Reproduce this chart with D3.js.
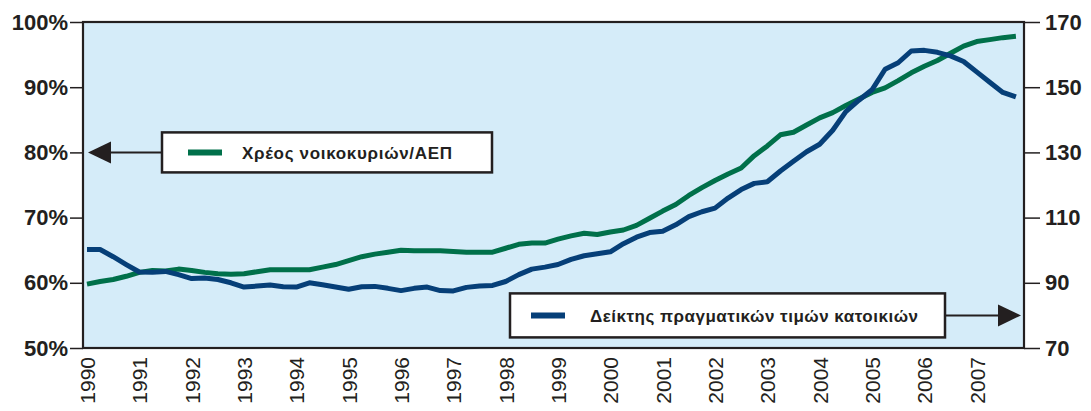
<!DOCTYPE html>
<html>
<head>
<meta charset="utf-8">
<script src="https://cdn.jsdelivr.net/npm/d3@7"></script>
<style>
  body { margin: 0; background: #fff; }
  text { font-family: "Liberation Sans", Arial, Helvetica, sans-serif; fill: #231f20; }
</style>
</head>
<body>
<div id="chart"></div>
<script>
// Quarterly data, 1990Q1 - 2007Q4
var firstYear = 1990;
var yearLabels = ["1990", "1991", "1992", "1993", "1994", "1995", "1996", "1997", "1998",
    "1999", "2000", "2001", "2002", "2003", "2004", "2005", "2006", "2007"];

// Household debt / GDP (%), left axis
var debtToGdp = [
    59.8, 60.2, 60.5, 61.0, 61.6, 61.9, 61.8, 62.1,
    61.9, 61.6, 61.4, 61.3, 61.4, 61.7, 62.0, 62.0,
    62.0, 62.0, 62.4, 62.8, 63.4, 64.0, 64.4, 64.7,
    65.0, 64.9, 64.9, 64.9, 64.8, 64.7, 64.7, 64.7,
    65.3, 65.9, 66.1, 66.1, 66.7, 67.2, 67.6, 67.4,
    67.8, 68.1, 68.8, 69.9, 71.0, 72.0, 73.4, 74.6,
    75.7, 76.7, 77.6, 79.5, 81.0, 82.7, 83.1, 84.2,
    85.3, 86.1, 87.2, 88.2, 89.2, 89.9, 91.0, 92.2,
    93.2, 94.1, 95.2, 96.3, 97.0, 97.3, 97.6, 97.8
];

// Real house price index, right axis
var housePriceIndex = [
    100.2, 100.2, 98.0, 95.6, 93.3, 93.2, 93.5, 92.5,
    91.3, 91.5, 91.0, 90.0, 88.7, 89.0, 89.3, 88.8,
    88.7, 90.0, 89.4, 88.7, 88.0, 88.8, 88.9, 88.3,
    87.6, 88.3, 88.7, 87.6, 87.5, 88.6, 89.0, 89.2,
    90.4, 92.5, 94.2, 94.8, 95.6, 97.2, 98.3, 98.9,
    99.5, 102.0, 104.0, 105.4, 105.8, 107.8, 110.3, 111.8,
    112.9, 116.0, 118.6, 120.5, 121.0, 124.3, 127.3, 130.2,
    132.5, 136.8, 142.5, 146.0, 149.2, 155.5, 157.5, 161.1,
    161.3, 160.7, 159.6, 157.9, 154.7, 151.5, 148.4, 147.0
];

var leftTicks = [50, 60, 70, 80, 90, 100];
var rightTicks = [70, 90, 110, 130, 150, 170];

var debtLabel = "Χρέος νοικοκυριών/ΑΕΠ";
var priceLabel = "Δείκτης πραγματικών τιμών κατοικιών";

var green = "#00704a";
var blue = "#063f78";

var margin = { top: 22, right: 67, bottom: 63, left: 83 };
var width = 1091 - margin.left - margin.right;
var height = 411 - margin.top - margin.bottom;

var svg = d3.select("#chart")
    .append("svg")
    .attr("width", 1091)
    .attr("height", 411)
    .append("g")
    .attr("transform", "translate(" + margin.left + "," + margin.top + ")");

// scales
var x = d3.scaleLinear().domain([1990, 2008]).range([4, 946]);
var yLeft = d3.scaleLinear().domain([50, 100]).range([height, 0]);
var yRight = d3.scaleLinear().domain([70, 170]).range([height, 0]);

// plot background
svg.append("rect")
    .attr("width", width)
    .attr("height", height)
    .attr("fill", "#d5ecf9");

// lines
var debtLine = d3.line()
    .x(function (d, i) { return x(firstYear + i / 4); })
    .y(function (d) { return yLeft(d); });

var priceLine = d3.line()
    .x(function (d, i) { return x(firstYear + i / 4); })
    .y(function (d) { return yRight(d); });

svg.append("path")
    .datum(debtToGdp)
    .attr("d", debtLine)
    .style("fill", "none")
    .style("stroke", green)
    .style("stroke-width", 5)
    .style("stroke-linejoin", "round");

svg.append("path")
    .datum(housePriceIndex)
    .attr("d", priceLine)
    .style("fill", "none")
    .style("stroke", blue)
    .style("stroke-width", 5)
    .style("stroke-linejoin", "round");

// frame
svg.append("rect")
    .attr("width", width)
    .attr("height", height)
    .attr("fill", "none")
    .attr("stroke", "#231f20")
    .attr("stroke-width", 2.2);

// left axis
var leftAxis = svg.append("g")
    .call(d3.axisLeft(yLeft).tickValues(leftTicks).tickSize(13).tickPadding(2)
        .tickFormat(function (d) { return d + "%"; }));
leftAxis.select(".domain").remove();
leftAxis.selectAll("line").attr("stroke", "#231f20").attr("stroke-width", 1.5);
leftAxis.selectAll("text")
    .style("font-size", "22px")
    .style("font-weight", "bold")
    .attr("fill", "#231f20");

// right axis
var rightAxis = svg.append("g")
    .attr("transform", "translate(" + width + ",0)")
    .call(d3.axisRight(yRight).tickValues(rightTicks).tickSize(16).tickPadding(5));
rightAxis.select(".domain").remove();
rightAxis.selectAll("line").attr("stroke", "#231f20").attr("stroke-width", 1.5);
rightAxis.selectAll("text")
    .style("font-size", "22px")
    .style("font-weight", "bold")
    .attr("fill", "#231f20");

// year labels (no ticks)
var bottomAxis = svg.append("g")
    .attr("transform", "translate(0," + height + ")")
    .call(d3.axisBottom(x).tickValues(yearLabels.map(Number)).tickSize(0)
        .tickFormat(function (d) { return String(d); }));
bottomAxis.select(".domain").remove();
bottomAxis.selectAll("text")
    .attr("transform", "rotate(-90)")
    .attr("text-anchor", "end")
    .attr("x", -9)
    .attr("y", 0)
    .attr("dy", "0.36em")
    .style("font-size", "21px")
    .attr("fill", "#231f20");

// legend boxes with arrows pointing at their axis
function arrowHead(tipX, tipY, dir) {
    var back = tipX - dir * 23;
    return [[tipX, tipY], [back, tipY - 11], [back, tipY + 11]];
}

// debt legend -> left axis
var ly1 = yLeft(80);
svg.append("line")
    .attr("x1", 78).attr("x2", 25)
    .attr("y1", ly1).attr("y2", ly1)
    .attr("stroke", "#231f20").attr("stroke-width", 2);
svg.append("polygon")
    .attr("points", arrowHead(5, ly1, -1).join(" "))
    .attr("fill", "#231f20");
svg.append("rect")
    .attr("x", 79).attr("y", ly1 - 20)
    .attr("width", 330).attr("height", 40)
    .attr("fill", "#fff")
    .attr("stroke", "#231f20").attr("stroke-width", 2.5);
svg.append("line")
    .attr("x1", 105).attr("x2", 139)
    .attr("y1", ly1).attr("y2", ly1)
    .attr("stroke", green).attr("stroke-width", 6);
svg.append("text")
    .attr("x", 159).attr("y", ly1)
    .attr("dy", "0.36em")
    .attr("textLength", 210)
    .attr("lengthAdjust", "spacing")
    .style("font-size", "17px")
    .style("font-weight", "bold")
    .text(debtLabel);

// price legend -> right axis
var ly2 = yRight(80);
svg.append("line")
    .attr("x1", 862).attr("x2", 920)
    .attr("y1", ly2).attr("y2", ly2)
    .attr("stroke", "#231f20").attr("stroke-width", 2);
svg.append("polygon")
    .attr("points", arrowHead(938, ly2, 1).join(" "))
    .attr("fill", "#231f20");
svg.append("rect")
    .attr("x", 427).attr("y", ly2 - 22)
    .attr("width", 435).attr("height", 44)
    .attr("fill", "#fff")
    .attr("stroke", "#231f20").attr("stroke-width", 2.5);
svg.append("line")
    .attr("x1", 448).attr("x2", 482)
    .attr("y1", ly2).attr("y2", ly2)
    .attr("stroke", blue).attr("stroke-width", 6);
svg.append("text")
    .attr("x", 507).attr("y", ly2)
    .attr("dy", "0.36em")
    .attr("textLength", 328)
    .attr("lengthAdjust", "spacing")
    .style("font-size", "17px")
    .style("font-weight", "bold")
    .text(priceLabel);
</script>
</body>
</html>
